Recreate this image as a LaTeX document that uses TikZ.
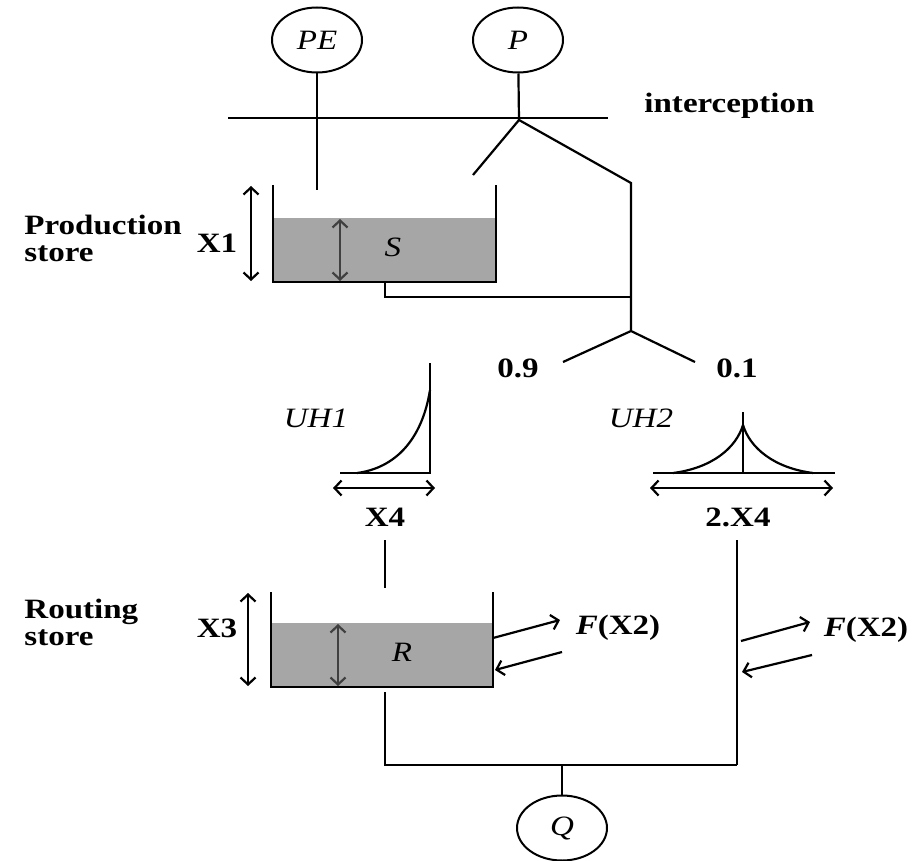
\documentclass[tikz,border=0pt]{standalone}
\usepackage{fontspec}
\setmainfont{Liberation Serif}[FakeStretch=1.18]
\usetikzlibrary{arrows.meta,shapes.geometric}

\begin{document}
\begin{tikzpicture}[x=1pt,y=-1pt,
        line width=2.2pt,
        >={Straight Barb[length=7pt,width=15pt]},
        lbl/.style={font=\fontsize{28}{27}\selectfont\bfseries},
        ital/.style={font=\fontsize{28}{27}\selectfont\itshape},
        flux/.style={ellipse, draw, line width=2pt, minimum width=90pt,
            minimum height=65pt, inner sep=0pt, font=\fontsize{28}{27}\selectfont\itshape},
        water/.style={fill=black!35},
        wall/.style={line width=2.6pt}]

        \useasboundingbox (0,0) rectangle (915,861);

        % Inputs and interception
        \node[flux] (pe) at (317,40) {PE};
        \node[flux] (p) at (518,40) {P};
        \coordinate (icl) at (228,118);
        \coordinate (icr) at (608,118);
        \draw[line width=1.8pt] (icl) -- (icr);
        \node[lbl, anchor=west] (icp) at (640,106) {interception};
        \coordinate (peend) at (317,190);
        \draw (pe) -- (peend);
        \coordinate (pj) at (519,120);
        \coordinate (pl) at (473,175);
        \coordinate (pr) at (631,183);
        \coordinate (sj) at (631,297);
        \coordinate (split) at (631,331);
        \draw (p) -- (pj);
        \draw (pl) -- (pj) -- (pr) -- (split);

        % Production store
        \begin{scope}
            \fill[water] (273,218) rectangle (496,282);
            \draw[wall] (273,185) -- (273,282) -- (496,282) -- (496,185);
            \draw[<->] (251,186) -- (251,281);
            \draw[<->, black!75] (340,219) -- (340,281);
            \node[ital] (s) at (393,247) {S};
            \node[lbl] (x1) at (217,243) {X1};
            \node[lbl, anchor=west, align=left] (pstore) at (20,238) {Production\\store};
            \coordinate (sout) at (385,282);
            \draw (sout) |- (sj);
        \end{scope}

        % Split 0.9 / 0.1
        \coordinate (s9) at (563,362);
        \coordinate (s1) at (695,362);
        \draw (s9) -- (split) -- (s1);
        \node[lbl] (r9) at (518,368) {0.9};
        \node[lbl] (r1) at (737,368) {0.1};

        % Unit hydrograph 1
        \begin{scope}
            \draw (340,473) -- (430,473) -- (430,363);
            \draw (357,473) .. controls (395,468) and (422,440) .. (430,390);
            \draw[<->] (333,488) -- (435,488);
            \node[lbl] (x4) at (385,517) {X4};
            \node[ital] (uh1) at (316,418) {UH1};
        \end{scope}

        % Unit hydrograph 2
        \begin{scope}
            \draw (653,473) -- (835,473);
            \draw (743,412) -- (743,473);
            \draw (673,473) .. controls (712,468) and (736,448) .. (743,425)
                .. controls (750,448) and (774,468) .. (813,473);
            \draw[<->] (650,488) -- (833,488);
            \node[lbl] (x42) at (738,517) {2.X4};
            \node[ital] (uh2) at (641,418) {UH2};
        \end{scope}

        \coordinate (x4a) at (385,540);
        \coordinate (x4b) at (385,588);
        \draw (x4a) -- (x4b);

        % Routing store
        \begin{scope}
            \fill[water] (271,623) rectangle (493,687);
            \draw[wall] (271,592) -- (271,687) -- (493,687) -- (493,592);
            \draw[<->] (248,593) -- (248,686);
            \draw[<->, black!75] (338,624) -- (338,686);
            \node[ital] (r) at (402,652) {R};
            \node[lbl] (x3) at (217,628) {X3};
            \node[lbl, anchor=west, align=left] (rstore) at (20,622) {Routing\\store};
            \node[lbl] (fr) at (618,628) {\textit{F}(X2)};
            \coordinate (rex1) at (493,638);
            \coordinate (rex2) at (560,620);
            \coordinate (rex3) at (562,652);
            \coordinate (rex4) at (495,670);
            \draw[->] (rex1) -- (rex2);
            \draw[->] (rex3) -- (rex4);
        \end{scope}

        % Direct branch
        \coordinate (b2top) at (737,540);
        \coordinate (b2bot) at (737,765);
        \draw (b2top) -- (b2bot);
        \node[lbl] (f2) at (866,630) {\textit{F}(X2)};
        \coordinate (dex1) at (741,641);
        \coordinate (dex2) at (810,622);
        \coordinate (dex3) at (812,655);
        \coordinate (dex4) at (742,672);
        \draw[->] (dex1) -- (dex2);
        \draw[->] (dex3) -- (dex4);

        % Outflow
        \node[flux] (q) at (562,828) {Q};
        \coordinate (rout) at (385,692);
        \coordinate (qj) at (562,765);
        \draw (rout) |- (b2bot);
        \draw (qj) -- (q);
    \end{tikzpicture}
\end{document}
